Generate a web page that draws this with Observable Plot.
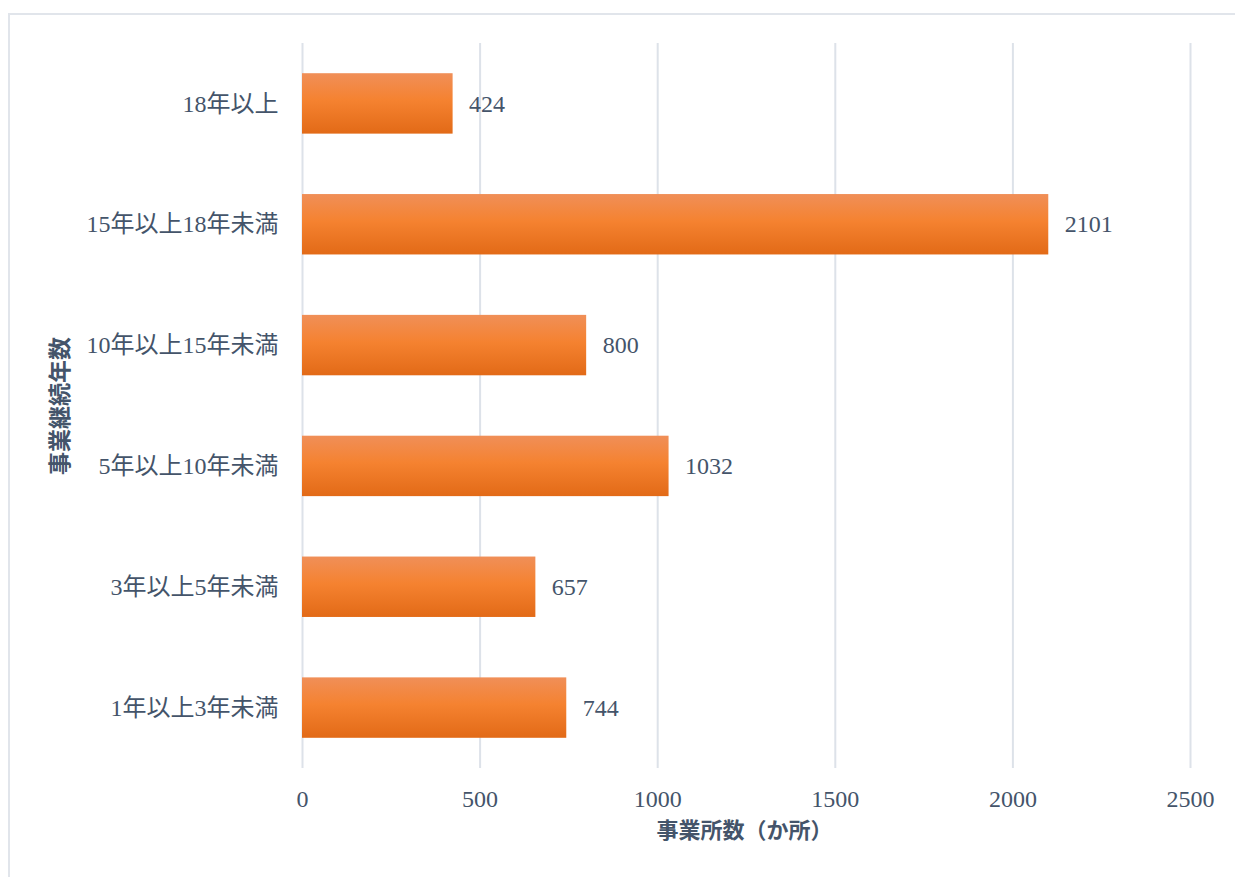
<!DOCTYPE html>
<html>
<head>
<meta charset="utf-8">
<script src="https://cdn.jsdelivr.net/npm/d3@7"></script>
<script src="https://cdn.jsdelivr.net/npm/@observablehq/plot@0.6"></script>
<style>
  html, body { margin: 0; padding: 0; background: #fff; }
  #wrap { position: relative; width: 1235px; height: 877px; overflow: hidden; }
  #frame { position: absolute; left: 8px; top: 13px; width: 1240px; height: 880px; border-left: 2px solid #e1e5eb; border-top: 2px solid #e1e5eb; box-sizing: border-box; }
  #chart { position: absolute; left: 0; top: 0; }
</style>
</head>
<body>
<div id="wrap"><div id="frame"></div><div id="chart"></div></div>
<script>
const categories = ["18年以上", "15年以上18年未満", "10年以上15年未満", "5年以上10年未満", "3年以上5年未満", "1年以上3年未満"];
const values = [424, 2101, 800, 1032, 657, 744];
const xTicks = [0, 500, 1000, 1500, 2000, 2500];
const xTitle = "事業所数（か所）";
const yTitle = "事業継続年数";

const data = categories.map((c, i) => ({ category: c, value: values[i] }));
const textColor = "#44546a";
const serif = "'Liberation Serif', 'DejaVu Serif', 'Noto Sans CJK JP', serif";
const sans = "'Noto Sans CJK JP', 'Noto Sans', sans-serif";

const chart = Plot.plot({
  width: 1235,
  height: 877,
  marginLeft: 302,
  marginRight: 45,
  marginTop: 43,
  marginBottom: 109,
  style: { fontFamily: serif, fontSize: "24px", color: textColor, background: "transparent" },
  x: { domain: [0, 2500], ticks: xTicks, label: null },
  y: { domain: categories, paddingInner: 0.5, paddingOuter: 0.25, round: false, label: null },
  marks: [
    Plot.gridX(xTicks, { stroke: "#dde2e9", strokeOpacity: 1, strokeWidth: 2 }),
    Plot.axisX({ ticks: xTicks, tickFormat: d => String(d), tickSize: 0, tickPadding: 21, fontSize: 24, fill: textColor, label: null }),
    Plot.axisY({ tickSize: 0, tickPadding: 24, fontSize: 24, fill: textColor, label: null }),
    Plot.barX(data, { x: "value", y: "category", fill: "url(#barGrad)" }),
    Plot.text(data, { x: "value", y: "category", text: d => String(d.value), textAnchor: "start", dx: 16, fontSize: 24, fill: textColor }),
    Plot.text([xTitle], { frameAnchor: "bottom", textAnchor: "middle", dx: -2, dy: 69, text: d => d, fontSize: 22, fontWeight: "bold", fill: textColor, fontFamily: sans }),
    Plot.text([yTitle], { frameAnchor: "left", textAnchor: "middle", dx: -242, rotate: -90, text: d => d, fontSize: 23, fontWeight: "bold", fill: textColor, fontFamily: sans })
  ]
});

const svg = d3.select(chart);
const defs = svg.insert("defs", ":first-child");
const g = defs.append("linearGradient").attr("id", "barGrad").attr("x1", 0).attr("y1", 0).attr("x2", 0).attr("y2", 1);
g.append("stop").attr("offset", "0%").attr("stop-color", "#f08f58");
g.append("stop").attr("offset", "45%").attr("stop-color", "#f58230");
g.append("stop").attr("offset", "100%").attr("stop-color", "#e26a17");

document.getElementById("chart").appendChild(chart);
</script>
</body>
</html>
